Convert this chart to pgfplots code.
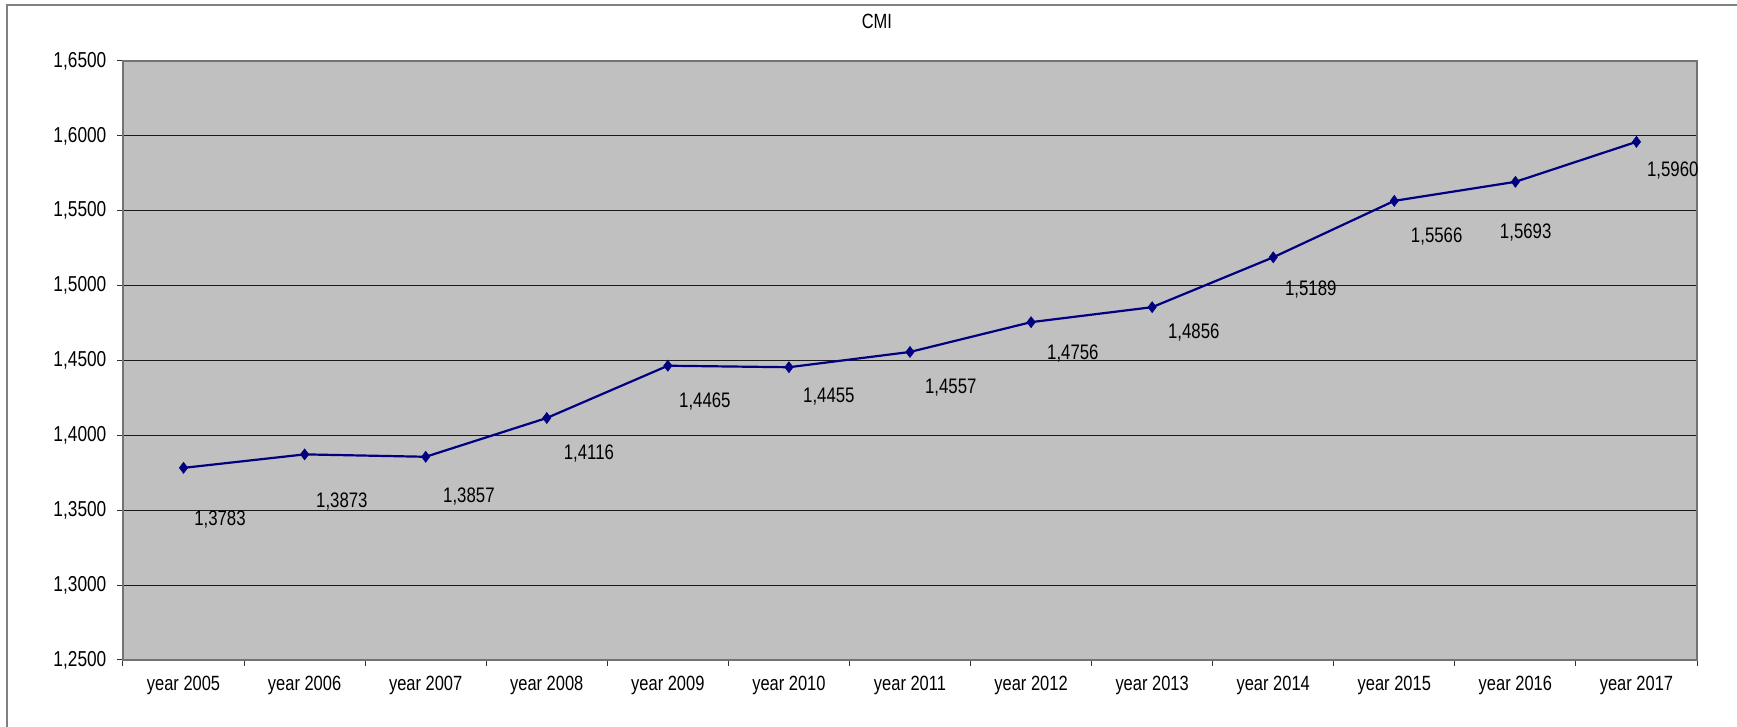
\documentclass[border=0pt]{standalone}
\usepackage{fontspec}
\setmainfont{Liberation Sans}[FakeStretch=0.8]
\usepackage{pgfplots}
\pgfplotsset{compat=1.18}
\usepackage{pgfplotstable}
\definecolor{plotbg}{HTML}{C0C0C0}
\definecolor{navyline}{HTML}{000080}
\definecolor{framegray}{HTML}{808080}

\pgfplotstableread{
x y
1 1.3783
2 1.3873
3 1.3857
4 1.4116
5 1.4465
6 1.4455
7 1.4557
8 1.4756
9 1.4856
10 1.5189
11 1.5566
12 1.5693
13 1.5960
}\cmidata

\pgfplotstableread{
x y label
1.301 1.3435 1,3783
2.308 1.3555 1,3873
3.357 1.3589 1,3857
4.348 1.3876 1,4116
5.306 1.4223 1,4465
6.330 1.4256 1,4455
7.337 1.4317 1,4557
8.345 1.4544 1,4756
9.344 1.4684 1,4856
10.310 1.4972 1,5189
11.350 1.5326 1,5566
12.085 1.5352 1,5693
13.300 1.5767 1,5960
}\cmilabels

\begin{document}
\begin{tikzpicture}
\useasboundingbox (-61.5pt,-33.5pt) rectangle (807pt,330pt);
\draw[framegray, line width=0.6pt] (-58pt,-40pt) -- (-58pt,327.5pt) -- (820pt,327.5pt);
\begin{axis}[
  scale only axis,
  width=787pt, height=299.5pt,
  at={(0pt,0pt)}, anchor=south west,
  xmin=0.5, xmax=13.5,
  ymin=1.25, ymax=1.65,
  ytick={1.25,1.30,...,1.66},
  ymajorgrids,
  grid style={black!90, line width=0.55pt},
  axis background/.style={fill=plotbg},
  axis line style={black!55, line width=0.9pt},
  tick align=outside,
  xtick pos=bottom, ytick pos=left,
  major tick length=2.8pt,
  tick style={black!80, line width=0.5pt},
  xtick={0.5,1.5,...,13.6},
  xticklabels={},
  extra x ticks={1,2,...,13},
  extra x tick labels={year 2005,year 2006,year 2007,year 2008,year 2009,year 2010,year 2011,year 2012,year 2013,year 2014,year 2015,year 2016,year 2017},
  extra x tick style={major tick length=0pt, xticklabel style={yshift=-4.5pt}},
  /pgf/number format/fixed,
  /pgf/number format/fixed zerofill,
  /pgf/number format/precision=4,
  /pgf/number format/use comma,
  /pgf/number format/assume math mode=true,
  xticklabel style={font=\fontsize{10.3pt}{12pt}\selectfont},
  yticklabel style={font=\fontsize{10.8pt}{12pt}\selectfont, xshift=-2pt},
  title={CMI},
  title style={at={(0.479,1.0467)}, anchor=center, font=\fontsize{10.3pt}{12pt}\selectfont},
  clip=false,
]
\addplot[navyline, line width=1.1pt, mark=diamond*, mark size=2.75pt, mark options={fill=navyline, draw=navyline, line width=0.3pt}] table[x=x, y=y] {\cmidata};
\addplot[draw=none, mark=none, nodes near coords, point meta=explicit symbolic,
  nodes near coords align=center,
  every node near coord/.append style={anchor=center, inner sep=0pt, font=\fontsize{10.5pt}{12pt}\selectfont, text=black}]
  table[x=x, y=y, meta=label] {\cmilabels};
\end{axis}
\end{tikzpicture}
\end{document}
